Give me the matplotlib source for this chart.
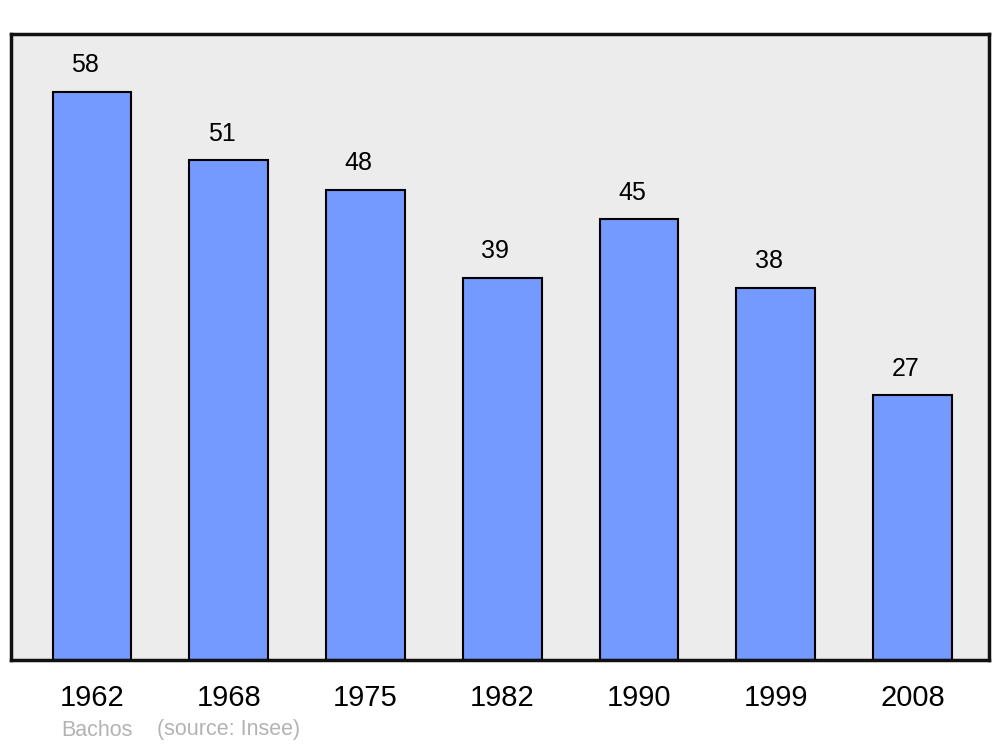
import numpy as np
import matplotlib
matplotlib.use("Agg")
import matplotlib.pyplot as plt

years = ["1962", "1968", "1975", "1982", "1990", "1999", "2008"]
population = [58, 51, 48, 39, 45, 38, 27]

plt.rcParams['font.family'] = ['Liberation Sans', 'DejaVu Sans']

fig = plt.figure(figsize=(10, 7.47), dpi=100)
ax = fig.add_axes([0.011, 87 / 747, 0.978, 626 / 747])
ax.set_facecolor('#ececec')

x = np.arange(len(years))
ax.bar(x, population, width=0.575, color='#7499ff', edgecolor='black', linewidth=1.5, zorder=2)

# value labels sit a bit left of the bar centre, like the original
for xi, v in zip(x, population):
	ax.annotate(str(v), (xi - 0.05, v), xytext=(0, 14), textcoords='offset points',
				ha='center', va='baseline', fontsize=18)

ax.set_xlim(-0.593, 6.56)
ax.set_ylim(0, 63.9)
ax.set_xticks(x)
ax.set_xticklabels(years, fontsize=21)
ax.tick_params(axis='x', length=0, pad=17)
ax.set_yticks([])
for s in ax.spines.values():
	s.set_linewidth(2.5)
	s.set_color('#111111')

fig.text(0.061, 17 / 747, "Bachos", fontsize=15.5, color='#b3b3b3', va='center')
fig.text(0.157, 17 / 747, "(source: Insee)", fontsize=15.5, color='#b3b3b3', va='center')

fig.savefig('out.png', dpi=100)
